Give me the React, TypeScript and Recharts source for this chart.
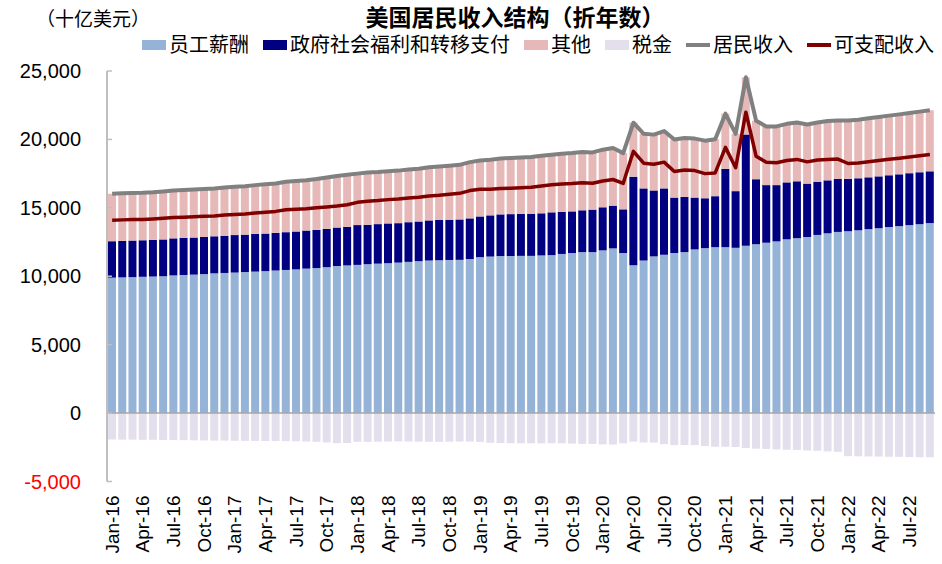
import React from "react"
import {
  ComposedChart,
  Bar,
  Line,
  XAxis,
  YAxis,
  ReferenceLine,
} from "recharts"

const months = [
  "Jan-16", "Feb-16", "Mar-16", "Apr-16", "May-16", "Jun-16", "Jul-16", "Aug-16", "Sep-16", "Oct-16", "Nov-16", "Dec-16",
  "Jan-17", "Feb-17", "Mar-17", "Apr-17", "May-17", "Jun-17", "Jul-17", "Aug-17", "Sep-17", "Oct-17", "Nov-17", "Dec-17",
  "Jan-18", "Feb-18", "Mar-18", "Apr-18", "May-18", "Jun-18", "Jul-18", "Aug-18", "Sep-18", "Oct-18", "Nov-18", "Dec-18",
  "Jan-19", "Feb-19", "Mar-19", "Apr-19", "May-19", "Jun-19", "Jul-19", "Aug-19", "Sep-19", "Oct-19", "Nov-19", "Dec-19",
  "Jan-20", "Feb-20", "Mar-20", "Apr-20", "May-20", "Jun-20", "Jul-20", "Aug-20", "Sep-20", "Oct-20", "Nov-20", "Dec-20",
  "Jan-21", "Feb-21", "Mar-21", "Apr-21", "May-21", "Jun-21", "Jul-21", "Aug-21", "Sep-21", "Oct-21", "Nov-21", "Dec-21",
  "Jan-22", "Feb-22", "Mar-22", "Apr-22", "May-22", "Jun-22", "Jul-22", "Aug-22", "Sep-22",
]

// 员工薪酬
const compensation = [
  9900, 9920, 9940, 9960, 9980, 10000, 10060, 10090, 10120, 10160, 10210, 10240,
  10270, 10300, 10340, 10370, 10420, 10460, 10500, 10560, 10600, 10660, 10750, 10790,
  10830, 10880, 10920, 10960, 11000, 11050, 11100, 11150, 11170, 11190, 11200, 11250,
  11400, 11440, 11470, 11480, 11490, 11490, 11520, 11540, 11630, 11690, 11760, 11760,
  11890, 12040, 11690, 10800, 11150, 11450, 11570, 11690, 11760, 11960, 12060, 12130,
  12130, 12080, 12220, 12340, 12450, 12550, 12700, 12780, 12870, 13020, 13140, 13240,
  13290, 13360, 13440, 13510, 13590, 13660, 13740, 13810, 13880,
]

// 政府社会福利和转移支付
const transfers = [
  2660, 2660, 2670, 2670, 2680, 2690, 2710, 2710, 2710, 2710, 2710, 2720,
  2740, 2740, 2750, 2750, 2750, 2760, 2770, 2780, 2790, 2800, 2810, 2820,
  2910, 2880, 2890, 2900, 2880, 2900, 2900, 2930, 2940, 2940, 2950, 2980,
  2970, 3010, 3050, 3060, 3060, 3080, 3080, 3130, 3080, 3050, 3060, 3110,
  3150, 3120, 3200, 6480, 5270, 4820, 4850, 4060, 4040, 3790, 3640, 3720,
  5710, 4140, 8140, 4750, 4210, 4110, 4160, 4160, 3900, 3890, 3870, 3870,
  3820, 3800, 3790, 3790, 3790, 3790, 3790, 3790, 3790,
]

// 其他
const others = [
  3470, 3480, 3470, 3470, 3480, 3510, 3500, 3500, 3510, 3510, 3500, 3520,
  3530, 3540, 3570, 3600, 3610, 3690, 3690, 3670, 3710, 3750, 3770, 3810,
  3760, 3820, 3810, 3820, 3840, 3850, 3860, 3890, 3910, 3950, 3990, 4110,
  4090, 4070, 4090, 4100, 4130, 4140, 4200, 4210, 4240, 4260, 4260, 4180,
  4210, 4210, 4110, 3940, 3990, 4080, 4190, 4240, 4310, 4310, 4210, 4160,
  4040, 4190, 4180, 4280, 4290, 4290, 4280, 4300, 4320, 4330, 4330, 4280,
  4280, 4280, 4310, 4340, 4360, 4380, 4400, 4430, 4460,
]

// 税金
const taxes = [
  -1930, -1940, -1940, -1950, -1950, -1960, -1970, -1980, -1990, -2000, -2010, -2010,
  -2020, -2030, -2030, -2040, -2040, -2050, -2060, -2080, -2100, -2150, -2200, -2190,
  -2100, -2100, -2090, -2080, -2070, -2080, -2090, -2100, -2100, -2090, -2080, -2080,
  -2110, -2170, -2190, -2200, -2210, -2210, -2210, -2200, -2210, -2230, -2250, -2250,
  -2290, -2300, -2210, -2090, -2150, -2160, -2270, -2340, -2340, -2340, -2410, -2460,
  -2460, -2480, -2550, -2600, -2620, -2660, -2680, -2700, -2730, -2750, -2800, -2830,
  -3150, -3160, -3170, -3180, -3190, -3200, -3210, -3220, -3230,
]

// 居民收入
const personalIncome = [
  16030, 16060, 16080, 16100, 16140, 16200, 16270, 16300, 16340, 16380, 16420, 16480,
  16540, 16580, 16660, 16720, 16780, 16910, 16960, 17010, 17100, 17210, 17330, 17420,
  17500, 17580, 17620, 17680, 17720, 17800, 17860, 17970, 18020, 18080, 18140, 18340,
  18460, 18520, 18610, 18640, 18680, 18710, 18800, 18880, 18950, 19000, 19080, 19050,
  19250, 19370, 19000, 21220, 20410, 20350, 20610, 19990, 20110, 20060, 19910, 20010,
  21880, 20410, 24540, 21370, 20950, 20950, 21140, 21240, 21090, 21240, 21340, 21390,
  21390, 21440, 21540, 21640, 21740, 21830, 21930, 22030, 22130,
]

// 可支配收入
const disposableIncome = [
  14100, 14120, 14140, 14150, 14190, 14240, 14300, 14320, 14350, 14380, 14410, 14470,
  14520, 14550, 14630, 14680, 14740, 14860, 14900, 14930, 15000, 15060, 15130, 15230,
  15400, 15480, 15530, 15600, 15650, 15720, 15770, 15870, 15920, 15990, 16060, 16260,
  16350, 16350, 16420, 16440, 16470, 16500, 16590, 16680, 16740, 16770, 16830, 16800,
  16960, 17070, 16790, 19130, 18260, 18190, 18340, 17650, 17770, 17720, 17500, 17550,
  19420, 17930, 21990, 18770, 18330, 18290, 18460, 18540, 18360, 18490, 18540, 18560,
  18240, 18280, 18370, 18460, 18550, 18630, 18720, 18810, 18900,
]

const yTicks = [-5000, 0, 5000, 10000, 15000, 20000, 25000]

const data = months.map((month, i) => ({
  month,
  compensation: compensation[i],
  transfers: transfers[i],
  others: others[i],
  taxes: taxes[i],
  personalIncome: personalIncome[i],
  disposableIncome: disposableIncome[i],
}))

const legendItems = [
  { name: "员工薪酬", color: "#95B3D7", kind: "box" },
  { name: "政府社会福利和转移支付", color: "#000080", kind: "box" },
  { name: "其他", color: "#E6B9B8", kind: "box" },
  { name: "税金", color: "#E4DFEC", kind: "box" },
  { name: "居民收入", color: "#808080", kind: "line" },
  { name: "可支配收入", color: "#800000", kind: "line" },
]

const font = "'Liberation Sans', Arial, 'Noto Sans CJK SC', sans-serif"

const YTick = (props: any) => {
  const { x, y, payload } = props
  const v = payload.value as number
  return (
    <g>
      <text
        x={x}
        y={y}
        textAnchor="end"
        dominantBaseline="central"
        fontSize={20}
        fontFamily={font}
        fill={v < 0 ? "#FF0000" : "#000000"}
      >
        {v.toLocaleString("en-US")}
      </text>
      <line x1={x + 26} x2={x + 31} y1={y} y2={y} stroke="#BFBFBF" strokeWidth={1.5} />
    </g>
  )
}

const XTick = (props: any) => {
  const { x, y, payload } = props
  return (
    <text
      x={x}
      y={y}
      transform={`rotate(-90, ${x}, ${y})`}
      textAnchor="end"
      dominantBaseline="central"
      fontSize={19}
      fontFamily={font}
      fill="#000000"
    >
      {payload.value}
    </text>
  )
}

export default function App() {
  return (
    <div style={{ position: "relative", width: 942, height: 564, background: "#fff", fontFamily: font }}>
      <style>{"body{margin:0}"}</style>
      <div style={{ position: "absolute", left: 36, top: 7, fontSize: 19, lineHeight: "26px" }}>（十亿美元）</div>
      <div
        style={{
          position: "absolute",
          left: 0,
          width: 1030,
          top: 4,
          textAlign: "center",
          fontSize: 23,
          fontWeight: "bold",
          lineHeight: "28px",
        }}
      >
        美国居民收入结构（折年数）
      </div>
      <div style={{ position: "absolute", left: 142, top: 32, display: "flex", alignItems: "center", whiteSpace: "nowrap" }}>
        {legendItems.map((item) => (
          <div key={item.name} style={{ display: "flex", alignItems: "center", marginRight: 14 }}>
            {item.kind === "box" ? (
              <span style={{ display: "inline-block", width: 24, height: 10, background: item.color, marginRight: 3 }} />
            ) : (
              <span style={{ display: "inline-block", width: 24, height: 4, background: item.color, marginRight: 3 }} />
            )}
            <span style={{ fontSize: 20, lineHeight: "26px" }}>{item.name}</span>
          </div>
        ))}
      </div>
      <div style={{ position: "absolute", left: 0, top: 0 }}>
        <ComposedChart
          width={942}
          height={564}
          data={data}
          stackOffset="sign"
          barCategoryGap="10%"
          margin={{ top: 71, right: 7, bottom: 0, left: 0 }}
        >
          <XAxis
            dataKey="month"
            interval={2}
            height={82.5}
            axisLine={false}
            tickLine={false}
            tickSize={0}
            tickMargin={14}
            tick={<XTick />}
          />
          <YAxis
            width={107}
            domain={[-5000, 25000]}
            ticks={yTicks}
            interval={0}
            axisLine={{ stroke: "#BFBFBF", strokeWidth: 2 }}
            tickLine={false}
            tickSize={0}
            tickMargin={26}
            tick={<YTick />}
          />
          <Bar dataKey="compensation" stackId="a" fill="#95B3D7" isAnimationActive={false} />
          <Bar dataKey="transfers" stackId="a" fill="#000080" isAnimationActive={false} />
          <Bar dataKey="others" stackId="a" fill="#E6B9B8" isAnimationActive={false} />
          <Bar dataKey="taxes" stackId="a" fill="#E4DFEC" isAnimationActive={false} />
          <ReferenceLine y={0} stroke="#A6A6A6" strokeWidth={1.5} />
          <Line
            type="linear"
            dataKey="personalIncome"
            stroke="#808080"
            strokeWidth={4}
            dot={false}
            strokeLinejoin="round"
            isAnimationActive={false}
          />
          <Line
            type="linear"
            dataKey="disposableIncome"
            stroke="#800000"
            strokeWidth={3.5}
            dot={false}
            strokeLinejoin="round"
            isAnimationActive={false}
          />
        </ComposedChart>
      </div>
    </div>
  )
}
